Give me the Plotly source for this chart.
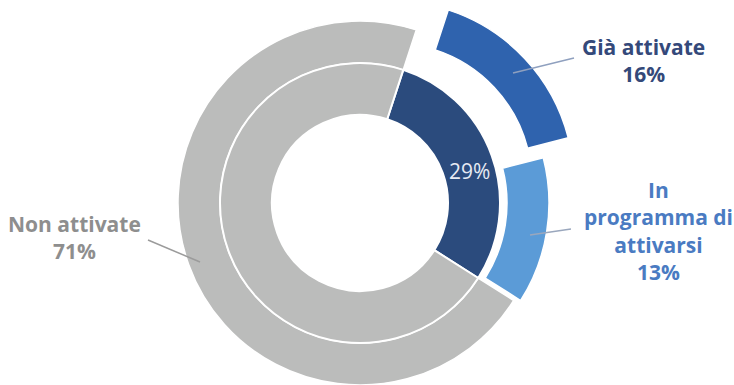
import plotly.graph_objects as go

# ---- data ----
outer_labels = ["Già attivate", "In programma di attivarsi", "Non attivate"]
outer_values = [16, 13, 71]
inner_labels = ["Attivate / in programma", "Non attivate"]
inner_values = [29, 71]
label_text = ["Già attivate<br>16%", "In<br>programma di<br>attivarsi<br>13%", "Non attivate<br>71%"]

# ---- style ----
W, H = 734, 385
CX, CY = 360, 203
R_OUT, R_MID, R_HOLE = 182, 140, 88
ROT = 18
GRAY = "#bbbcbb"
NAVY = "#2b4b7d"
BLUE = "#2f63ae"
LBLUE = "#5b9bd7"
CLEAR = "rgba(0,0,0,0)"
offsets = [(32, -20), (7, 0), (0, 0)]


def dom(cx, cy, r):
    return dict(x=[max(0, (cx - r) / W), min(1, (cx + r) / W)],
                y=[max(0, (H - cy - r) / H), min(1, (H - cy + r) / H)])


fig = go.Figure()
outer_colors = [BLUE, LBLUE, GRAY]
for i in [2, 0, 1]:
    cols = [CLEAR] * 3
    cols[i] = outer_colors[i]
    widths = [0] * 3
    widths[i] = 1.5
    dx, dy = offsets[i]
    fig.add_trace(go.Pie(
        labels=outer_labels, values=outer_values, sort=False,
        direction="clockwise", rotation=ROT,
        hole=R_MID / R_OUT, domain=dom(CX + dx, CY + dy, R_OUT),
        marker=dict(colors=cols, line=dict(color="white", width=widths)),
        textinfo="none", hoverinfo="skip", showlegend=False,
    ))

fig.add_trace(go.Pie(
    labels=inner_labels, values=inner_values, sort=False,
    direction="clockwise", rotation=ROT,
    hole=R_HOLE / R_MID, domain=dom(CX, CY, R_MID),
    marker=dict(colors=[NAVY, GRAY], line=dict(color="white", width=[2, 2])),
    textinfo="none", hoverinfo="label+value", showlegend=False,
))


def P(x, y):
    return x / W, 1 - y / H


# inner percentage label
px, py = P(469, 171)
fig.add_annotation(x=px, y=py, xref="paper", yref="paper", text=f"{inner_values[0]}%",
                   showarrow=False, font=dict(size=21, color="#e6eaf3", family="Open Sans"),
                   xanchor="center", yanchor="middle")

ann_pos = [(643, 60), (658, 231), (74, 237)]
ann_col = ["#34497a", "#4a7bc2", "#8e8e8e"]
for t, (x, y), c in zip(label_text, ann_pos, ann_col):
    px, py = P(x, y)
    fig.add_annotation(x=px, y=py, xref="paper", yref="paper", text="<b>" + t + "</b>",
                       showarrow=False, font=dict(size=21, color=c, family="Open Sans"),
                       align="center", xanchor="center", yanchor="middle")

leaders = [((513, 73), (574, 58), "#8fa0bf"),
           ((530, 235), (571, 229), "#9aa7bd"),
           ((148, 240), (200, 262), "#9b9b9b")]
for (x0, y0), (x1, y1), c in leaders:
    a0, b0 = P(x0, y0)
    a1, b1 = P(x1, y1)
    fig.add_shape(type="line", xref="paper", yref="paper", x0=a0, y0=b0, x1=a1, y1=b1,
                  line=dict(color=c, width=1.5))

fig.update_layout(width=W, height=H, margin=dict(l=0, r=0, t=0, b=0),
                  paper_bgcolor="white", plot_bgcolor="white", showlegend=False)
fig.write_html("out.html")
